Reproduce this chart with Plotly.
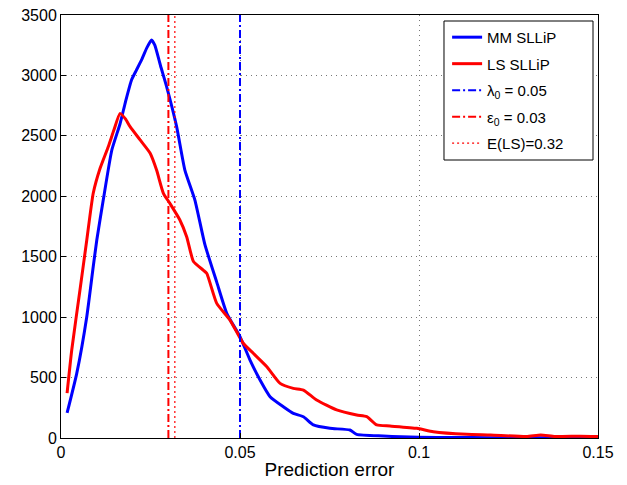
import plotly.graph_objects as go

# Data
mm_x = [0.0017, 0.0044, 0.0072, 0.009, 0.01, 0.0118, 0.0142, 0.0165, 0.018, 0.0197, 0.021, 0.0225,
        0.024, 0.0253, 0.0262, 0.0278, 0.0295, 0.0323, 0.0346, 0.0374, 0.0402, 0.0435, 0.0463, 0.05,
        0.0528, 0.0556, 0.0584, 0.0621, 0.0649, 0.0677, 0.0705, 0.0751, 0.0807, 0.0826, 0.09, 0.095,
        0.1, 0.11, 0.12, 0.13, 0.14, 0.15]
mm_y = [207, 535, 1004, 1417, 1638, 1969, 2383, 2600, 2780, 2962, 3040, 3128,
        3230, 3293, 3250, 3080, 2907, 2576, 2217, 1969, 1600, 1290, 1032, 838,
        645, 480, 342, 259, 204, 176, 108, 80, 66, 30, 17, 10,
        6, 4, 3, 3, 2, 2]

ls_x = [0.0017, 0.003, 0.0053, 0.0072, 0.009, 0.0109, 0.0132, 0.0148, 0.0165, 0.018, 0.0193, 0.0221,
        0.0249, 0.0267, 0.0286, 0.0304, 0.0332, 0.0351, 0.037, 0.0397, 0.0407, 0.0435, 0.0472, 0.0509,
        0.0537, 0.0575, 0.0612, 0.0649, 0.0677, 0.0714, 0.077, 0.0826, 0.0854, 0.0882, 0.0919, 0.0994,
        0.104, 0.1133, 0.12, 0.13, 0.134, 0.138, 0.145, 0.15]
ls_y = [372, 728, 1225, 1638, 2025, 2230, 2410, 2550, 2686, 2640, 2576, 2466,
        2356, 2217, 2025, 1942, 1804, 1666, 1460, 1390, 1363, 1114, 976, 784,
        701, 590, 452, 411, 397, 314, 232, 190, 176, 108, 99, 80,
        52, 30, 25, 12, 25, 12, 15, 12]

lambda0 = 0.05
eps0 = 0.03
e_ls = 0.0318

y_range = [0, 3500]
x_range = [0, 0.15]
y_ticks = [0, 500, 1000, 1500, 2000, 2500, 3000, 3500]
x_ticks = [0, 0.05, 0.1, 0.15]
x_ticklabels = ["0", "0.05", "0.1", "0.15"]

fig = go.Figure()
fig.add_trace(go.Scatter(x=mm_x, y=mm_y, mode="lines", name="MM SLLiP", legendgroup="a",
                         line=dict(color="#0000ff", width=3, shape="spline", smoothing=0.5)))
fig.add_trace(go.Scatter(x=ls_x, y=ls_y, mode="lines", name="LS SLLiP", legendgroup="b",
                         line=dict(color="#ff0000", width=3, shape="spline", smoothing=0.5)))
fig.add_trace(go.Scatter(x=[lambda0, lambda0], y=y_range, mode="lines",
                         name="λ<sub>0</sub> = 0.05", legendgroup="c",
                         line=dict(color="#0000ff", width=2, dash="8px,3px,2px,3px")))
fig.add_trace(go.Scatter(x=[eps0, eps0], y=y_range, mode="lines",
                         name="ε<sub>0</sub> = 0.03", legendgroup="d",
                         line=dict(color="#ff0000", width=2, dash="8px,3px,2px,3px")))
fig.add_trace(go.Scatter(x=[e_ls, e_ls], y=y_range, mode="lines",
                         name="E(LS)=0.32", legendgroup="e",
                         line=dict(color="#ff0000", width=1.2, dash="2px,3px")))

axis_common = dict(showline=True, linecolor="black", linewidth=1, mirror=True,
                   ticks="inside", ticklen=5, tickcolor="black",
                   showgrid=True, gridcolor="#777777", gridwidth=1, griddash="1px,4px",
                   zeroline=False, tickfont=dict(size=16, color="black"), automargin=False)

fig.update_xaxes(range=x_range, tickvals=x_ticks, ticktext=x_ticklabels,
                 title=dict(text="Prediction error", font=dict(size=19, color="black"), standoff=2),
                 **axis_common)
fig.update_yaxes(range=y_range, tickvals=y_ticks, **axis_common)

# legend frame (white box with black border behind the legend entries)
fig.add_shape(type="rect", xref="paper", yref="paper",
              x0=0.7132, x1=0.9907, y0=0.6572, y1=0.9858,
              fillcolor="white", line=dict(color="black", width=1), layer="above")

fig.update_layout(
    width=627, height=485,
    margin=dict(l=61, r=29, t=15, b=47),
    paper_bgcolor="white", plot_bgcolor="white",
    font=dict(family="Liberation Sans, Arial, sans-serif", color="black"),
    legend=dict(x=0.719, y=0.986, xanchor="left", yanchor="top",
                bgcolor="rgba(0,0,0,0)", borderwidth=0,
                font=dict(size=15, color="black"),
                tracegroupgap=4, traceorder="grouped"),
)

fig.write_html("out.html")
